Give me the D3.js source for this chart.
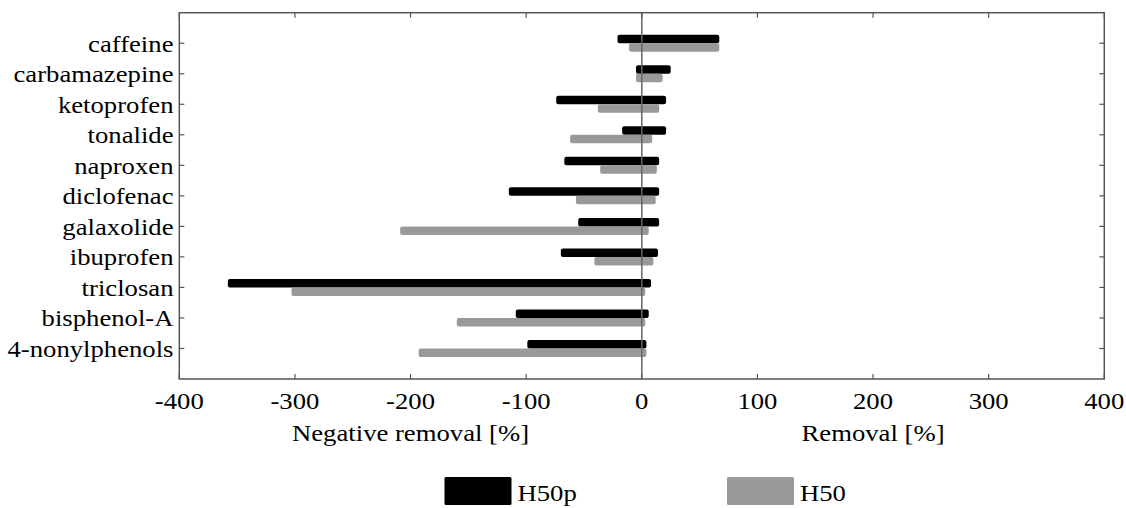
<!DOCTYPE html>
<html>
<head>
<meta charset="utf-8">
<script src="https://cdn.jsdelivr.net/npm/d3@7"></script>
<style>
  body { margin: 0; background: #fff; }
  text { font-family: "Liberation Serif", "Times New Roman", serif; fill: #000; }
</style>
</head>
<body>
<svg id="chart" width="1126" height="508"></svg>
<script>
// compounds, top to bottom
var compounds = ["caffeine", "carbamazepine", "ketoprofen", "tonalide", "naproxen",
  "diclofenac", "galaxolide", "ibuprofen", "triclosan", "bisphenol-A", "4-nonylphenols"];

// H50p range (min = negative removal, max = removal), %
var h50pMin = [-21, -5, -74, -17, -67, -115, -55, -70, -358, -109, -99];
var h50pMax = [67, 25, 21, 21, 15, 15, 15, 14, 8, 6, 4];

// H50 range, %
var h50Min = [-11, -5, -38, -62, -36, -57, -209, -41, -303, -160, -193];
var h50Max = [67, 18, 15, 9, 13, 12, 6, 10, 3, 3, 4];

var xTicks = [-400, -300, -200, -100, 0, 100, 200, 300, 400];

var svg = d3.select("#chart");
var plotL = 179.3, plotR = 1104.3, plotT = 12.7, plotB = 379;
var fontSize = "23px";
var stretch = 1.16; // text in the figure is wider than it is tall
var frameCol = "#555";

var x = d3.scaleLinear().domain([-400, 400]).range([plotL, plotR]);
var y = d3.scaleLinear().domain([0, compounds.length + 1]).range([plotT, plotB]);
var barH = 8.5;

// widen a text element horizontally around its anchor
function widen(sel) {
  sel.each(function () {
    var w = this.getComputedTextLength();
    d3.select(this).attr("textLength", w * stretch).attr("lengthAdjust", "spacingAndGlyphs");
  });
}

// bars: H50p above the tick, H50 below
var series = [
  { name: "H50p", min: h50pMin, max: h50pMax, color: "#000", off: -barH },
  { name: "H50", min: h50Min, max: h50Max, color: "#999", off: 0 }
];

series.forEach(function (s) {
  svg.append("g").selectAll("rect")
    .data(compounds)
    .enter().append("rect")
    .attr("x", function (d, i) { return x(s.min[i]); })
    .attr("width", function (d, i) { return x(s.max[i]) - x(s.min[i]); })
    .attr("y", function (d, i) { return y(i + 1) + s.off; })
    .attr("height", barH)
    .attr("rx", 2)
    .attr("fill", s.color);
});

// zero line
svg.append("line")
  .attr("x1", x(0)).attr("x2", x(0))
  .attr("y1", plotT).attr("y2", plotB)
  .attr("stroke", "#666").attr("stroke-width", 1.5);

// frame
svg.append("rect")
  .attr("x", plotL).attr("y", plotT)
  .attr("width", plotR - plotL).attr("height", plotB - plotT)
  .attr("fill", "none").attr("stroke", frameCol).attr("stroke-width", 1.5);

// x ticks, inward on top and bottom
var xt = svg.append("g");
xTicks.forEach(function (t) {
  xt.append("line").attr("x1", x(t)).attr("x2", x(t))
    .attr("y1", plotB).attr("y2", plotB - 5)
    .attr("stroke", frameCol).attr("stroke-width", 1.2);
  xt.append("line").attr("x1", x(t)).attr("x2", x(t))
    .attr("y1", plotT).attr("y2", plotT + 5)
    .attr("stroke", frameCol).attr("stroke-width", 1.2);
});

xt.selectAll("text")
  .data(xTicks)
  .enter().append("text")
  .attr("x", function (d) { return x(d); })
  .attr("y", 408.5)
  .attr("text-anchor", "middle")
  .style("font-size", fontSize)
  .text(function (d) { return d; })
  .call(widen);

// y ticks, inward on both sides
var yt = svg.append("g");
compounds.forEach(function (c, i) {
  yt.append("line").attr("x1", plotL).attr("x2", plotL + 5)
    .attr("y1", y(i + 1)).attr("y2", y(i + 1))
    .attr("stroke", frameCol).attr("stroke-width", 1.2);
  yt.append("line").attr("x1", plotR).attr("x2", plotR - 5)
    .attr("y1", y(i + 1)).attr("y2", y(i + 1))
    .attr("stroke", frameCol).attr("stroke-width", 1.2);
});

yt.selectAll("text")
  .data(compounds)
  .enter().append("text")
  .attr("x", 173.5)
  .attr("y", function (d, i) { return y(i + 1) + 8.5; })
  .attr("text-anchor", "end")
  .style("font-size", fontSize)
  .text(function (d) { return d; })
  .call(widen);

// axis titles
svg.append("text")
  .attr("x", x(-200)).attr("y", 441)
  .attr("text-anchor", "middle")
  .style("font-size", fontSize)
  .text("Negative removal [%]")
  .call(widen);

svg.append("text")
  .attr("x", x(200)).attr("y", 441)
  .attr("text-anchor", "middle")
  .style("font-size", fontSize)
  .text("Removal [%]")
  .call(widen);

// legend
var legX = [444.5, 727];
series.forEach(function (s, i) {
  svg.append("rect")
    .attr("x", legX[i]).attr("y", 477)
    .attr("width", 67).attr("height", 28)
    .attr("rx", 1.5)
    .attr("fill", s.color);
  svg.append("text")
    .attr("x", legX[i] + 73).attr("y", 501)
    .style("font-size", fontSize)
    .text(s.name)
    .call(widen);
});
</script>
</body>
</html>
